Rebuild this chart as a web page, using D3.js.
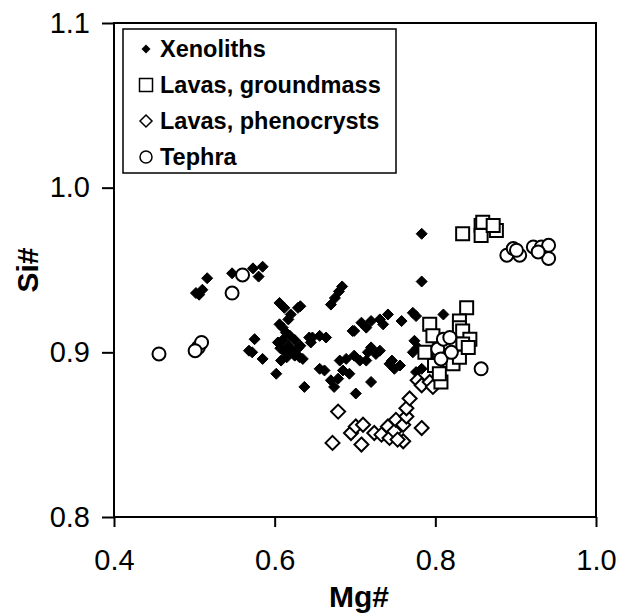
<!DOCTYPE html>
<html>
<head>
<meta charset="utf-8">
<script src="https://cdn.jsdelivr.net/npm/d3@7"></script>
<style>
  html, body { margin: 0; padding: 0; background: #fff; }
  svg { display: block; }
  text { font-family: "Liberation Sans", Arial, sans-serif; fill: #000; }
</style>
</head>
<body>
<svg id="chart" width="622" height="615"></svg>
<script>
// ---- data ----
const xTicks = [0.4, 0.6, 0.8, 1.0];
const yTicks = [0.8, 0.9, 1.0, 1.1];
const seriesNames = ["Xenoliths", "Lavas, groundmass", "Lavas, phenocrysts", "Tephra"];

const xenolithsMg = [0.502,0.506,0.510,0.516,0.547,0.573,0.585,0.580,
  0.606,0.612,0.620,0.629,0.617,0.632,0.670,0.675,0.680,0.684,
  0.606,0.610,0.614,0.610,0.617,0.622,0.613,0.625,0.619,0.629,0.607,0.615,0.625,0.632,0.604,
  0.575,0.568,0.572,0.585,0.608,0.631,0.602,
  0.647,0.656,0.664,0.645,0.643,0.635,0.637,
  0.697,0.708,0.720,0.731,0.741,0.735,0.714,0.699,0.758,0.772,0.776,0.810,0.783,0.783,
  0.656,0.662,0.670,0.674,0.681,0.689,0.699,0.706,0.716,0.720,0.726,0.731,0.714,0.685,0.693,0.679,
  0.701,0.720,0.743,0.749,0.756,0.746,0.774,0.778,0.776,0.783,0.772];
const xenolithsSi = [0.936,0.935,0.938,0.945,0.948,0.951,0.952,0.946,
  0.930,0.927,0.923,0.927,0.920,0.928,0.929,0.933,0.937,0.940,
  0.917,0.915,0.912,0.9075,0.904,0.901,0.900,0.9075,0.910,0.9025,0.9025,0.897,0.898,0.904,0.906,
  0.908,0.901,0.900,0.896,0.895,0.897,0.887,
  0.909,0.910,0.909,0.906,0.909,0.896,0.879,
  0.913,0.918,0.919,0.920,0.923,0.917,0.915,0.913,0.919,0.924,0.922,0.923,0.943,0.972,
  0.890,0.889,0.883,0.879,0.895,0.896,0.898,0.895,0.900,0.903,0.899,0.901,0.895,0.889,0.887,0.884,
  0.875,0.882,0.893,0.890,0.892,0.895,0.907,0.903,0.888,0.890,0.900];

const groundmassMg = [0.834,0.857,0.857,0.876,0.859,0.872,
  0.839,0.793,0.830,0.830,0.834,0.843,0.834,0.797,0.787,0.805,0.814,0.799,0.822,0.830,0.807,0.805,0.841,0.818];
const groundmassSi = [0.972,0.977,0.971,0.974,0.979,0.977,
  0.927,0.917,0.919,0.915,0.913,0.908,0.905,0.910,0.900,0.901,0.895,0.892,0.893,0.897,0.882,0.887,0.903,0.906];

const phenocrystsMg = [0.679,0.672,0.695,0.701,0.710,0.708,0.724,0.733,0.741,0.743,0.749,0.751,
  0.760,0.760,0.764,0.764,0.768,0.783,0.753,0.778,0.783,0.793,0.797];
const phenocrystsSi = [0.864,0.845,0.851,0.855,0.856,0.844,0.851,0.850,0.855,0.848,0.852,0.859,
  0.856,0.846,0.861,0.866,0.872,0.854,0.847,0.883,0.880,0.882,0.879];

const tephraMg = [0.456,0.505,0.509,0.501,0.547,0.560,
  0.857,0.803,0.810,0.818,0.807,0.820,
  0.889,0.897,0.905,0.922,0.932,0.941,0.941,0.928,0.901];
const tephraSi = [0.899,0.903,0.906,0.901,0.936,0.947,
  0.890,0.902,0.908,0.909,0.896,0.900,
  0.959,0.963,0.959,0.964,0.964,0.965,0.957,0.961,0.962];

// ---- layout ----
const svg = d3.select("#chart");
const pLeft = 114, pRight = 596, pTop = 23, pBottom = 517;

const x = d3.scaleLinear().domain([0.4, 1.0]).range([pLeft, pRight]);
const y = d3.scaleLinear().domain([0.8, 1.1]).range([pBottom, pTop]);

// plot frame
svg.append("rect")
  .attr("x", pLeft).attr("y", pTop)
  .attr("width", pRight - pLeft).attr("height", pBottom - pTop)
  .attr("fill", "none").attr("stroke", "#000").attr("stroke-width", 2);

// axes
const xAxis = d3.axisBottom(x).tickValues(xTicks).tickFormat(d3.format(".1f"))
  .tickSizeInner(10).tickSizeOuter(0).tickPadding(22);
const gx = svg.append("g").attr("transform", `translate(0,${pBottom})`).call(xAxis);
gx.select(".domain").remove();
gx.selectAll("line").attr("stroke", "#000").attr("stroke-width", 2);
gx.selectAll("text").style("font-size", "29px").attr("fill", "#000");

const yAxis = d3.axisLeft(y).tickValues(yTicks).tickFormat(d3.format(".1f"))
  .tickSizeInner(12).tickSizeOuter(0).tickPadding(12);
const gy = svg.append("g").attr("transform", `translate(${pLeft},0)`).call(yAxis);
gy.select(".domain").remove();
gy.selectAll("line").attr("stroke", "#000").attr("stroke-width", 2);
gy.selectAll("text").style("font-size", "29px").attr("fill", "#000");

// axis titles
svg.append("text").attr("x", 359).attr("y", 607)
  .attr("text-anchor", "middle").style("font-size", "30px").style("font-weight", "bold")
  .text("Mg#");
svg.append("text").attr("transform", "translate(38,270) rotate(-90)")
  .attr("text-anchor", "middle").style("font-size", "30px").style("font-weight", "bold")
  .text("Si#");

// marker shapes
function diamond(r) { return `M0,${-r}L${r},0L0,${r}L${-r},0Z`; }
function square(s) { const h = s / 2; return `M${-h},${-h}H${h}V${h}H${-h}Z`; }

const plot = svg.append("g");

function pts(mg, si) { return mg.map((m, i) => [m, si[i]]); }

// Xenoliths: filled diamonds
plot.selectAll(".xen").data(pts(xenolithsMg, xenolithsSi)).enter().append("path")
  .attr("d", diamond(5.5))
  .attr("transform", d => `translate(${x(d[0])},${y(d[1])})`)
  .attr("fill", "#000").attr("stroke", "#000").attr("stroke-width", 1);

// Lavas, phenocrysts: open diamonds
plot.selectAll(".phe").data(pts(phenocrystsMg, phenocrystsSi)).enter().append("path")
  .attr("d", diamond(7))
  .attr("transform", d => `translate(${x(d[0])},${y(d[1])})`)
  .attr("fill", "#fff").attr("stroke", "#000").attr("stroke-width", 2);

// Lavas, groundmass: open squares
plot.selectAll(".gm").data(pts(groundmassMg, groundmassSi)).enter().append("path")
  .attr("d", square(13))
  .attr("transform", d => `translate(${x(d[0])},${y(d[1])})`)
  .attr("fill", "#fff").attr("stroke", "#000").attr("stroke-width", 2);

// Tephra: open circles
plot.selectAll(".te").data(pts(tephraMg, tephraSi)).enter().append("circle")
  .attr("cx", d => x(d[0])).attr("cy", d => y(d[1])).attr("r", 6.5)
  .attr("fill", "#fff").attr("stroke", "#000").attr("stroke-width", 2);

// legend
const lg = svg.append("g");
lg.append("rect").attr("x", 123).attr("y", 29).attr("width", 273).attr("height", 144)
  .attr("fill", "#fff").attr("stroke", "#000").attr("stroke-width", 1.5);
const rowY = [49, 85, 121, 157];
seriesNames.forEach((name, i) => {
  const cy = rowY[i], cx = 146;
  if (i === 0) {
    lg.append("path").attr("d", diamond(4.5)).attr("transform", `translate(${cx},${cy})`).attr("fill", "#000");
  } else if (i === 1) {
    lg.append("path").attr("d", square(13)).attr("transform", `translate(${cx},${cy})`)
      .attr("fill", "#fff").attr("stroke", "#000").attr("stroke-width", 1.5);
  } else if (i === 2) {
    lg.append("path").attr("d", diamond(6)).attr("transform", `translate(${cx},${cy})`)
      .attr("fill", "#fff").attr("stroke", "#000").attr("stroke-width", 1.5);
  } else {
    lg.append("circle").attr("cx", cx).attr("cy", cy).attr("r", 6)
      .attr("fill", "#fff").attr("stroke", "#000").attr("stroke-width", 1.5);
  }
  lg.append("text").attr("x", 160).attr("y", cy + 8)
    .style("font-size", "23.5px").style("font-weight", "bold").text(name);
});
</script>
</body>
</html>
